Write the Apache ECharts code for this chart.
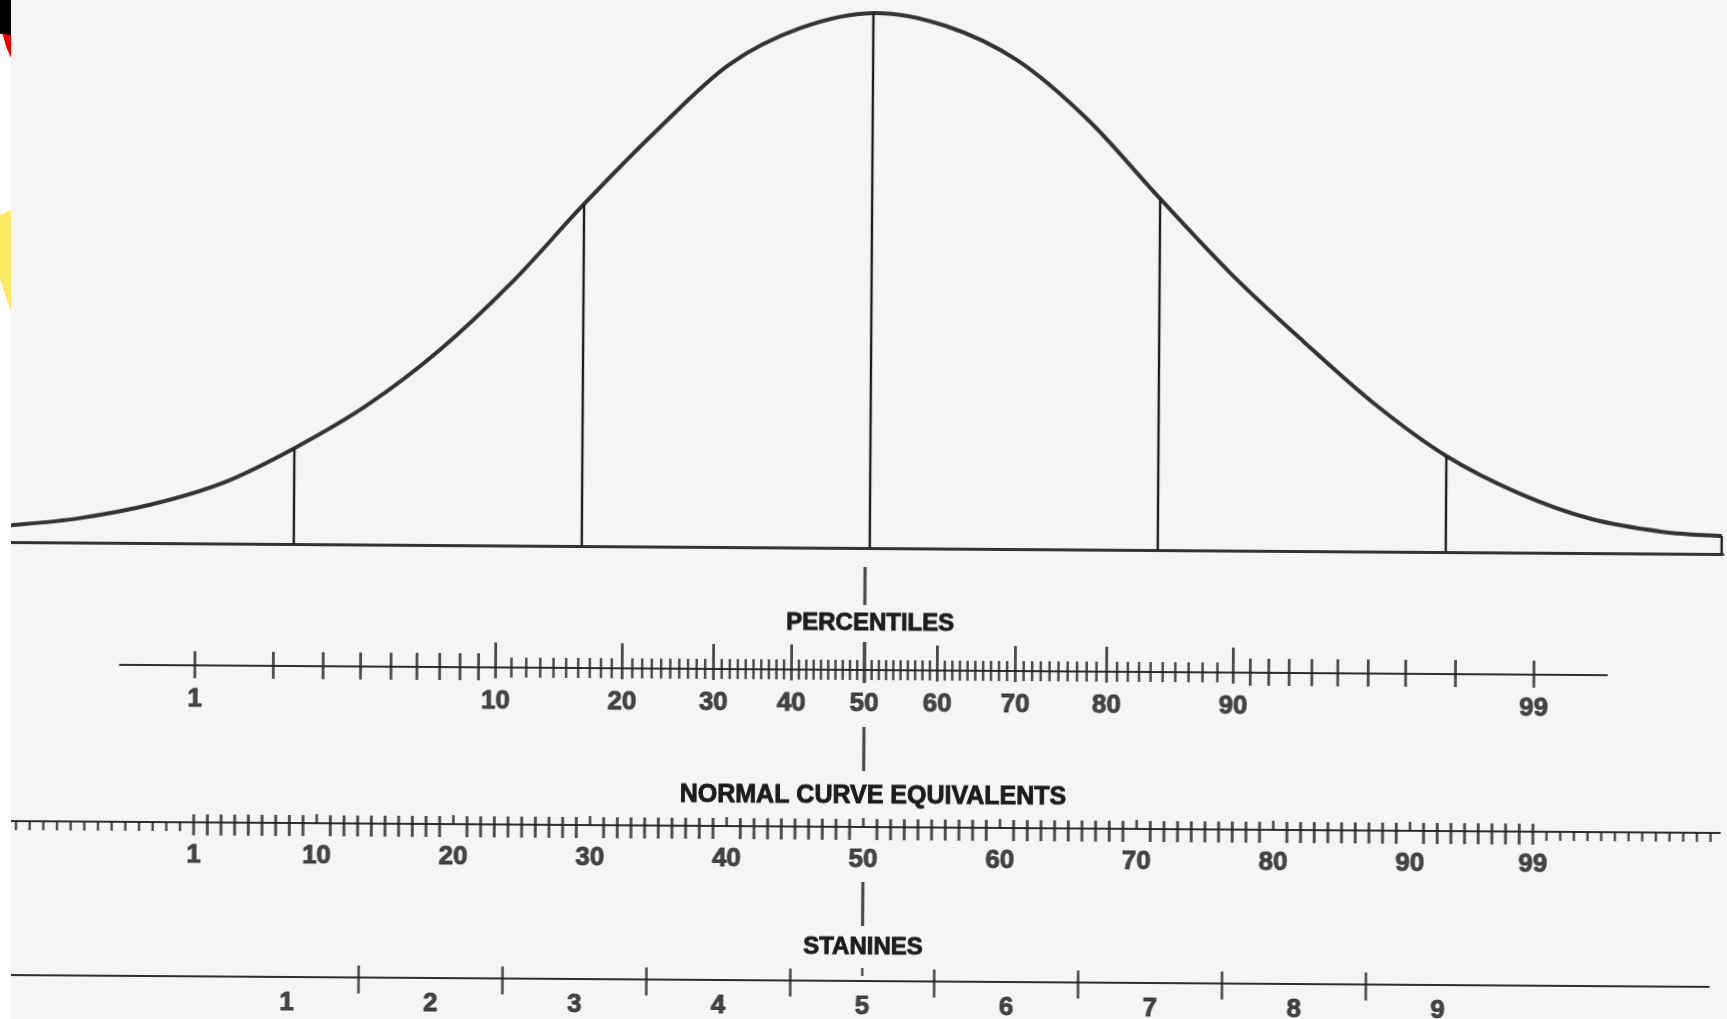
<!DOCTYPE html>
<html>
<head>
<meta charset="utf-8">
<title>Normal curve scales</title>
<script src="https://cdn.jsdelivr.net/npm/echarts@6/dist/echarts.min.js"></script>
<style>
  html, body { margin: 0; padding: 0; background: #f5f5f5; overflow: hidden; }
  #chart { position: absolute; left: 0; top: 0; width: 1727px; height: 1019px; transform: rotate(0.4deg); }
  .edge { position: absolute; left: 0; top: 0; width: 11px; height: 1019px; background: #fff; }
  .blk { position: absolute; left: 0; top: 0; width: 11px; height: 45px; background: #000; clip-path: polygon(0 0, 100% 0, 100% 80%, 0 75%); }
  .red { position: absolute; left: 0; top: 33px; width: 11px; height: 25px; background: #e00; clip-path: polygon(20% 0, 100% 10%, 100% 100%, 60% 60%); }
  .yel { position: absolute; left: 0; top: 210px; width: 11px; height: 102px; background: #ffe866; clip-path: polygon(0 5%, 100% 0, 100% 100%, 0 68%); }
</style>
</head>
<body>
<div id="chart"></div>
<div class="edge"></div>
<div class="blk"></div>
<div class="red"></div>
<div class="yel"></div>
<script>
// normal curve (x in SD units, height as density)
const curveZ = [-2.983, -2.75, -2.5, -2.25, -2.0, -1.75, -1.5, -1.25, -1.0, -0.75, -0.5, -0.25, 0,
  0.25, 0.5, 0.75, 1.0, 1.25, 1.5, 1.75, 2.0, 2.25, 2.5, 2.75, 2.958];
const curveHeight = [0.0124, 0.0180, 0.0285, 0.0450, 0.0715, 0.1037, 0.1450, 0.1960, 0.2551, 0.3103, 0.3598, 0.3877, 0.3991,
  0.3899, 0.3646, 0.3200, 0.2620, 0.2060, 0.1565, 0.1100, 0.0716, 0.0445, 0.0257, 0.0163, 0.0134];

// vertical lines at the standard deviations
const sdLines = [-2, -1, 0, 1, 2];
const sdLineHeight = [0.0715, 0.2551, 0.3991, 0.2620, 0.0716];

// scales
const percentileFirst = 1, percentileLast = 99;
const percentileLabels = [1, 10, 20, 30, 40, 50, 60, 70, 80, 90, 99];
const nceFirst = -12, nceLast = 112;
const nceLabels = [1, 10, 20, 30, 40, 50, 60, 70, 80, 90, 99];
const stanineBounds = [1.5, 2.5, 3.5, 4.5, 5.5, 6.5, 7.5, 8.5];
const stanineLabels = [1, 2, 3, 4, 5, 6, 7, 8, 9];

const INK = '#1c1c1c';
const FONT = "'Liberation Sans', Arial, sans-serif";

// probability scale: percentile -> z
function probit(p) {
  const a = [-39.69683028665376, 220.9460984245205, -275.9285104469687, 138.3577518672690, -30.66479806614716, 2.506628277459239];
  const b = [-54.47609879822406, 161.5858368580409, -155.6989798598866, 66.80131188771972, -13.28068155288572];
  const c = [-0.007784894002430293, -0.3223964580411365, -2.400758277161838, -2.549732539343734, 4.374664141464968, 2.938163982698783];
  const d = [0.007784695709041462, 0.3224671290700398, 2.445134137142996, 3.754408661907416];
  const pl = 0.02425;
  if (p < pl) {
    const q = Math.sqrt(-2 * Math.log(p));
    return (((((c[0] * q + c[1]) * q + c[2]) * q + c[3]) * q + c[4]) * q + c[5]) / ((((d[0] * q + d[1]) * q + d[2]) * q + d[3]) * q + 1);
  }
  if (p > 1 - pl) return -probit(1 - p);
  const q = p - 0.5, r = q * q;
  return (((((a[0] * r + a[1]) * r + a[2]) * r + a[3]) * r + a[4]) * r + a[5]) * q /
    (((((b[0] * r + b[1]) * r + b[2]) * r + b[3]) * r + b[4]) * r + 1);
}
const pctZ = p => probit(p / 100);
const nceZ = n => (n - 50) / 21.06;
const stanZ = s => (s - 5) / 2;

// a tick mark: up / down in px from the axis line
function tick(z, up, down, w) {
  return { value: [z, 0], symbolSize: [w, up + down], symbolOffset: [0, (down - up) / 2] };
}

let pctTicks = [];
for (let p = percentileFirst; p <= percentileLast; p++) {
  if (p === 50) pctTicks.push(tick(pctZ(p), 28, 13, 3.6));
  else if (p % 10 === 0) pctTicks.push(tick(pctZ(p), 25, 11, 2.8));
  else if (p < 10 || p > 90) pctTicks.push(tick(pctZ(p), 14, 13, 2.8));
  else pctTicks.push(tick(pctZ(p), 10, 10, 2.5));
}

let nceTicks = [];
for (let n = nceFirst; n <= nceLast; n++) {
  if (n < 1 || n > 99) nceTicks.push(tick(nceZ(n), 0, 9, 2.4));
  else if (n % 10 === 0) nceTicks.push(tick(nceZ(n), 9, 0, 2.6));
  else nceTicks.push(tick(nceZ(n), 8, 13, 2.9));
}

const stanTicks = stanineBounds.map(s => tick(stanZ(s), 12, 16, 2.6));

function labelSeries(grid, data, dy) {
  return {
    type: 'scatter', xAxisIndex: grid, yAxisIndex: grid, silent: true,
    symbolSize: 1, itemStyle: { color: 'rgba(0,0,0,0)' },
    data: data,
    label: {
      show: true, position: 'inside', offset: [0, dy],
      formatter: p => p.data[2],
      color: INK, fontSize: 26, fontWeight: 'bold', fontFamily: FONT,
      textBorderColor: INK, textBorderWidth: 0.9
    }
  };
}
function tickSeries(grid, data) {
  return {
    type: 'scatter', xAxisIndex: grid, yAxisIndex: grid, silent: true,
    symbol: 'rect', itemStyle: { color: '#222' }, data: data
  };
}

function scaleAxes(grid, min, max) {
  return {
    x: {
      gridIndex: grid, type: 'value', min: min, max: max,
      axisLine: { show: true, onZero: true, lineStyle: { color: '#2e2e2e', width: 2.2 } },
      axisTick: { show: false }, axisLabel: { show: false }, splitLine: { show: false }
    },
    y: { gridIndex: grid, type: 'value', min: -60, max: 110, show: false }
  };
}

const ax1 = scaleAxes(1, -2.5869, 2.5799);
const ax2 = scaleAxes(2, -2.9621, 2.9760);
const ax3 = scaleAxes(3, -2.9691, 2.9413);
ax3.y.min = -38;

function title(text, x, y, size) {
  return {
    type: 'text', x: x, y: y, silent: true,
    style: {
      text: text, fill: INK, stroke: INK, lineWidth: 0.9,
      font: 'bold ' + size + "px 'Liberation Sans', Arial, sans-serif",
      textAlign: 'center', textVerticalAlign: 'middle'
    }
  };
}

// curve as a Catmull-Rom spline through the read points, in pixel space
function renderCurve(params, api) {
  if (params.dataIndex !== 0) return null;
  const pts = curveZ.map((z, i) => api.coord([z, curveHeight[i]]));
  let d = 'M' + pts[0][0] + ' ' + pts[0][1];
  for (let i = 0; i < pts.length - 1; i++) {
    const p0 = pts[Math.max(i - 1, 0)], p1 = pts[i], p2 = pts[i + 1], p3 = pts[Math.min(i + 2, pts.length - 1)];
    const c1x = p1[0] + (p2[0] - p0[0]) / 6, c1y = p1[1] + (p2[1] - p0[1]) / 6;
    const c2x = p2[0] - (p3[0] - p1[0]) / 6, c2y = p2[1] - (p3[1] - p1[1]) / 6;
    d += ' C' + c1x + ' ' + c1y + ' ' + c2x + ' ' + c2y + ' ' + p2[0] + ' ' + p2[1];
  }
  const children = [{
    type: 'path', shape: { pathData: d },
    style: { fill: 'none', stroke: '#333', lineWidth: 4, lineJoin: 'round' }
  }];
  const verticals = sdLines.map((z, i) => [z, sdLineHeight[i]])
    .concat([[curveZ[curveZ.length - 1], curveHeight[curveHeight.length - 1]]]);
  verticals.forEach(v => {
    const top = api.coord(v), bot = api.coord([v[0], 0]);
    children.push({
      type: 'line', shape: { x1: top[0], y1: top[1], x2: bot[0], y2: bot[1] },
      style: { stroke: '#1e1e1e', lineWidth: 2.4 }
    });
  });
  return { type: 'group', children: children };
}

const option = {
  backgroundColor: '#f5f5f5',
  animation: false,
  grid: [
    { left: 11, right: 4, top: 11.7, bottom: 471 },
    { left: 121, right: 119, top: 560, bottom: 289 },
    { left: 13, right: 5, top: 717, bottom: 132 },
    { left: 11, right: 15, top: 871, bottom: 0 }
  ],
  xAxis: [
    {
      gridIndex: 0, type: 'value', min: -2.9826, max: 2.9618,
      axisLine: { show: true, onZero: false, lineStyle: { color: '#333', width: 3.2 } },
      axisTick: { show: false }, axisLabel: { show: false }, splitLine: { show: false }
    },
    ax1.x, ax2.x, ax3.x
  ],
  yAxis: [
    { gridIndex: 0, type: 'value', min: 0, max: 0.4, show: false },
    ax1.y, ax2.y, ax3.y
  ],
  graphic: [
    title('PERCENTILES', 871, 623, 24),
    title('NORMAL CURVE EQUIVALENTS', 875, 796, 25),
    title('STANINES', 866, 947, 24)
  ],
  series: [
    {
      type: 'custom', xAxisIndex: 0, yAxisIndex: 0, silent: true, clip: false,
      data: curveZ.map((z, i) => [z, curveHeight[i]]),
      renderItem: renderCurve
    },
    // percentiles
    tickSeries(1, pctTicks.concat([tick(0, 103, -65, 3.2)])),
    labelSeries(1, percentileLabels.map(p => [pctZ(p), 0, String(p)]), 34),
    // normal curve equivalents
    tickSeries(2, nceTicks.concat([tick(0, 100, -56, 3.2)])),
    labelSeries(2, nceLabels.map(n => [nceZ(n), 0, String(n)]), 33),
    // stanines
    tickSeries(3, stanTicks.concat([tick(0, 99, -55, 3.2), tick(0, 13, -5, 2.4)])),
    labelSeries(3, stanineLabels.map(s => [stanZ(s), 0, String(s)]), 26)
  ]
};

const chart = echarts.init(document.getElementById('chart'));
chart.setOption(option);
</script>
</body>
</html>
